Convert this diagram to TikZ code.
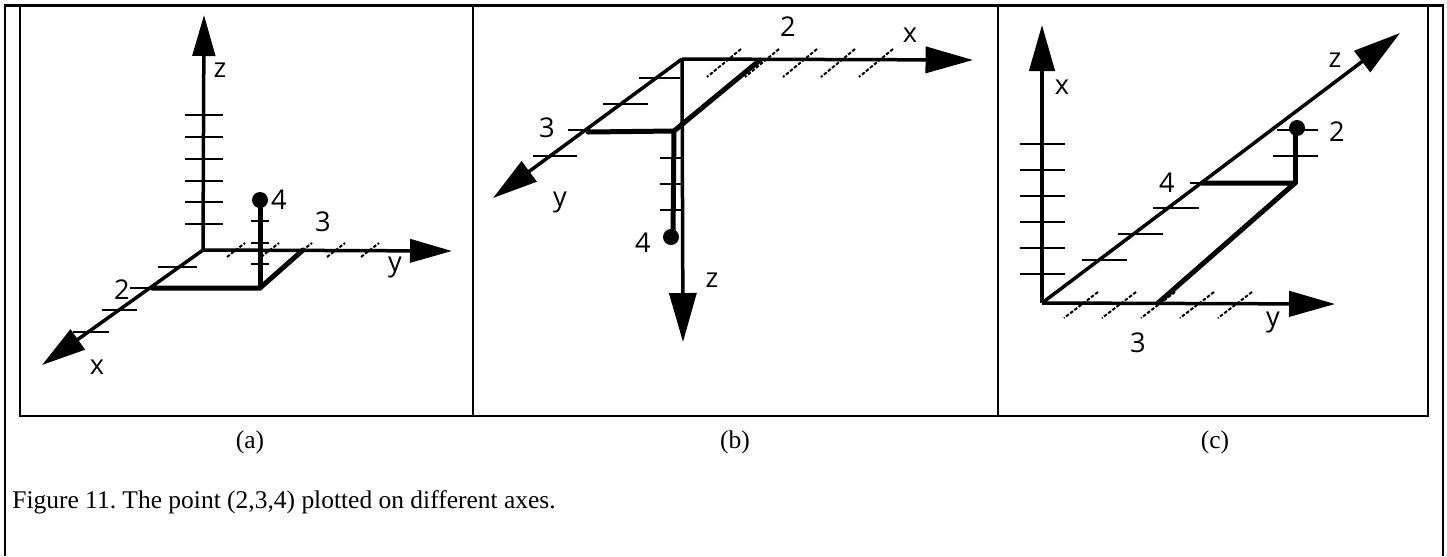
\documentclass[tikz,border=0pt]{standalone}
\usepackage{fontspec}
\setmainfont{Liberation Serif}
\setsansfont{Open Sans}
\usetikzlibrary{arrows.meta}
\frenchspacing
\tikzset{
  axisline/.style={line width=0.07cm, -{Triangle[length=#1cm,width=0.55*#1cm]}},
  axisline/.default=0.88,
  proj/.style={line width=0.1cm, line cap=round, line join=round},
  tk/.style={line width=0.04cm},
  dtk/.style={line width=0.04cm, dash pattern=on 0.07cm off 0.035cm},
  pt/.style={circle, fill=black, inner sep=0pt, minimum size=0.32cm},
  lbl/.style={font=\sffamily\fontsize{15.5}{17}\selectfont, inner sep=0pt},
  captext/.style={font=\rmfamily\fontsize{14.5}{16}\selectfont, inner sep=0pt},
  tframe/.style={line width=0.055cm}
}
\begin{document}
\begin{tikzpicture}[x=0.02cm,y=-0.02cm]
\useasboundingbox (0,0) rectangle (1447,556);
% table frame
\draw[tframe] (5,556) -- (5,5.5) -- (1443,5.5) -- (1443,556);
\draw[tframe] (20,5.5) rectangle (1428,416);
\draw[tframe] (473,5.5) -- (473,416);
\draw[tframe] (998,5.5) -- (998,416);
\node[captext] (la) at (250,442) {(a)};
\node[captext] (lb) at (735,442) {(b)};
\node[captext] (lc) at (1215,442) {(c)};
\node[captext, anchor=west] (capt) at (12,502) {Figure 11. The point (2,3,4) plotted on different axes.};

% ---------------- panel (a)
\coordinate (aO) at (203,250);
\coordinate (aZ) at (204,15);
\coordinate (aY) at (452,251);
\coordinate (aX) at (42,365);
\draw[axisline=0.82] (aO) -- (aZ);
\draw[axisline=0.84] (aO) -- (aY);
\draw[axisline=0.88] (aO) -- (aX);
\foreach \yy in {115,137,159,181,202,224} \draw[tk] (185,\yy) -- (223,\yy);
\foreach \xx in {236,270,303,336,370} \draw[dtk] (\xx-9,257) -- (\xx+9,243);
\draw[tk] (158,267) -- (197,267);
\draw[tk] (130,288) -- (165,288);
\draw[tk] (102,310) -- (137,310);
\draw[tk] (73,332) -- (109,332);
\coordinate (aA) at (152,288);
\coordinate (aP) at (260,288);
\coordinate (aB) at (303,250);
\node[pt] (aD) at (260,200) {};
\draw[proj] (aA) -- (aP) -- (aB);
\draw[proj] (aP) -- (aD.center);
\foreach \yy in {221,243,264} \draw[tk] (251,\yy) -- (269,\yy);
\node[lbl] (az) at (220,70) {z};
\node[lbl] (ay) at (395,267) {y};
\node[lbl] (ax) at (97,367) {x};
\node[lbl] (a2) at (122,290) {2};
\node[lbl] (a3) at (323,222) {3};
\node[lbl] (a4) at (279,200) {4};

% ---------------- panel (b)
\coordinate (bO) at (682,59);
\coordinate (bX) at (973,60);
\coordinate (bY) at (493,198);
\coordinate (bZ) at (683,342);
\draw[axisline=0.95] (bO) -- (bX);
\draw[axisline=0.9] (bO) -- (bY);
\draw[axisline=0.98] (bO) -- (bZ);
\foreach \xx in {724,762,800,838,876} \draw[dtk] (\xx+17,49) -- (\xx-17,77);
\draw[tk] (639,78) -- (680,78);
\draw[tk] (603,104) -- (648,104);
\draw[tk] (568,130) -- (590,130);
\draw[tk] (533,156) -- (577,156);
\coordinate (bA) at (588,132);
\coordinate (bP) at (674,131);
\coordinate (bB) at (760,60);
\node[pt] (bD) at (671,237) {};
\draw[proj] (bA) -- (bP) -- (bB);
\draw[proj] (bP) -- (673,237);
\foreach \yy in {158,184,210} \draw[tk] (660,\yy) -- (682,\yy);
\node[lbl] (b2) at (788,27) {2};
\node[lbl] (bx) at (910,35) {x};
\node[lbl] (b3) at (547,128) {3};
\node[lbl] (by) at (560,202) {y};
\node[lbl] (b4) at (643,243) {4};
\node[lbl] (bz) at (712,280) {z};

% ---------------- panel (c)
\coordinate (cO) at (1042,303);
\coordinate (cX) at (1042,25);
\coordinate (cY) at (1335,304);
\coordinate (cZ) at (1400,33);
\draw[axisline=0.92] (cO) -- (cX);
\draw[axisline=0.92] (cO) -- (cY);
\draw[axisline=0.95] (cO) -- (cZ);
\foreach \yy in {144,170,196,222,248,274} \draw[tk] (1020,\yy) -- (1065,\yy);
\foreach \xx in {1081,1119,1158,1197,1235} \draw[dtk] (\xx+17,292) -- (\xx-17,318);
\draw[tk] (1082,260) -- (1127,260);
\draw[tk] (1118,234) -- (1163,234);
\draw[tk] (1153,208) -- (1199,208);
\draw[tk] (1190,183) -- (1203,183);
\coordinate (cA) at (1202,183);
\coordinate (cP) at (1295,183);
\coordinate (cB) at (1158,303);
\draw[tk] (1277,130) -- (1318,130);
\draw[tk] (1273,156) -- (1318,156);
\node[pt] (cD) at (1297,128) {};
\draw[proj] (cA) -- (cP) -- (cB);
\draw[proj] (cP) -- (1295,128);
\node[lbl] (cx) at (1062,87) {x};
\node[lbl] (cz) at (1335,60) {z};
\node[lbl] (c2) at (1337,132) {2};
\node[lbl] (c4) at (1167,183) {4};
\node[lbl] (cy) at (1273,322) {y};
\node[lbl] (c3) at (1138,343) {3};
\end{tikzpicture}
\end{document}
